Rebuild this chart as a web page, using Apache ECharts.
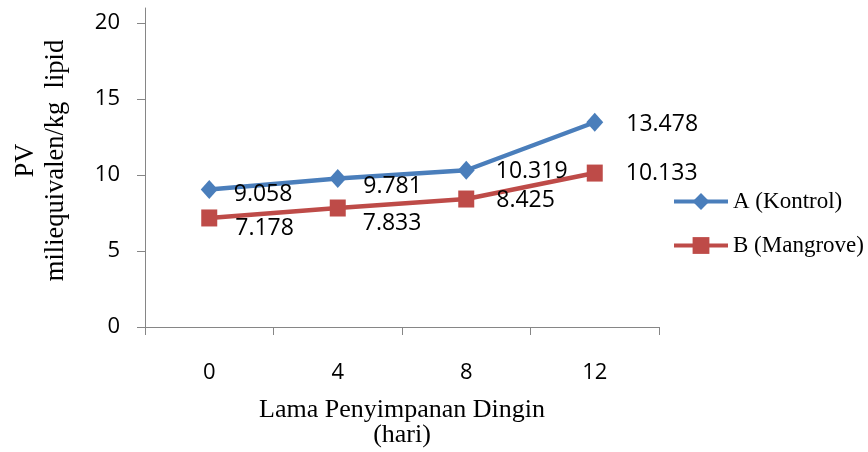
<!DOCTYPE html>
<html>
<head>
<meta charset="utf-8">
<script src="https://cdn.jsdelivr.net/npm/echarts@6/dist/echarts.min.js"></script>
<style>
  html, body { margin: 0; padding: 0; background: #ffffff; }
  #chart { width: 868px; height: 452px; }
</style>
</head>
<body>
<div id="chart"></div>
<script>
// Storage days (x categories)
const days = ['0', '4', '8', '12'];
// Peroxide value, series A (control) and B (mangrove)
const seriesNames = ['A (Kontrol)', 'B (Mangrove)'];
const pvKontrol = [9.058, 9.781, 10.319, 13.478];
const pvMangrove = [7.178, 7.833, 8.425, 10.133];
// Y tick labels
const yTicks = [0, 5, 10, 15, 20];

// Small per-point nudges of the value labels, [dx, dy] in px
const nudgeKontrol = [[0, 5], [1, 8], [5, 1], [7, 2]];
const nudgeMangrove = [[2, 10], [1, 15], [6, 1], [7, 0]];

const tickFont = '"Open Sans", sans-serif';
const serifFont = '"Liberation Serif", "Times New Roman", serif';
const axisGrey = '#868686';

function withLabels(values, nudges) {
  return values.map((v, i) => ({
    value: v,
    label: { offset: nudges[i] }
  }));
}

function lineSeries(name, values, nudges, color, symbol, size) {
  return {
    name: name,
    type: 'line',
    data: withLabels(values, nudges),
    symbol: symbol,
    symbolSize: size,
    showSymbol: true,
    lineStyle: { color: color, width: 4.5 },
    itemStyle: { color: color },
    label: {
      show: true,
      position: 'right',
      distance: 16,
      color: '#000000',
      fontFamily: tickFont,
      fontSize: 23,
      formatter: p => p.value.toFixed(3)
    },
    emphasis: { disabled: true },
    z: 3
  };
}

const chart = echarts.init(document.getElementById('chart'), null, { renderer: 'canvas' });
chart.setOption({
  animation: false,
  backgroundColor: '#ffffff',
  grid: {
    left: 145, right: 209, top: 8, bottom: 125,
    containLabel: false, outerBoundsMode: 'none'
  },
  xAxis: {
    type: 'category',
    data: days,
    boundaryGap: true,
    axisLine: { lineStyle: { color: axisGrey, width: 1 } },
    axisTick: { show: true, length: 8, alignWithLabel: false, lineStyle: { color: axisGrey } },
    axisLabel: { margin: 35, color: '#000000', fontFamily: tickFont, fontSize: 22 },
    splitLine: { show: false },
    name: 'Lama Penyimpanan Dingin\n(hari)',
    nameLocation: 'middle',
    nameGap: 71,
    nameTextStyle: { color: '#000000', fontFamily: serifFont, fontSize: 26, lineHeight: 25 }
  },
  yAxis: {
    type: 'value',
    min: 0,
    max: 21,
    interval: 5,
    axisLine: { show: true, lineStyle: { color: axisGrey, width: 1 } },
    axisTick: { show: true, length: 8, customValues: yTicks, lineStyle: { color: axisGrey } },
    axisLabel: { margin: 25, color: '#000000', fontFamily: tickFont, fontSize: 22, customValues: yTicks },
    splitLine: { show: false },
    name: 'PV\nmiliequivalen/kg  lipid',
    nameLocation: 'middle',
    nameRotate: 90,
    nameGap: 74,
    nameTextStyle: {
      color: '#000000', fontFamily: serifFont, fontSize: 26.5, lineHeight: 30,
      align: 'center', padding: [0, 0, 0, 14]
    }
  },
  legend: {
    orient: 'vertical',
    left: 667,
    top: 185,
    itemWidth: 54,
    itemHeight: 21,
    itemGap: 21,
    data: seriesNames,
    lineStyle: { width: 4 },
    textStyle: { color: '#000000', fontFamily: serifFont, fontSize: 23 }
  },
  series: [
    lineSeries(seriesNames[0], pvKontrol, nudgeKontrol, '#4A7EBB', 'diamond', [17, 19]),
    lineSeries(seriesNames[1], pvMangrove, nudgeMangrove, '#BE4B48', 'rect', [16, 17])
  ]
});
</script>
</body>
</html>
